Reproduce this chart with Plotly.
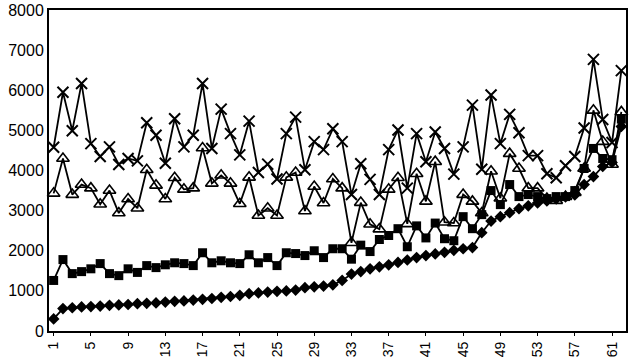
import plotly.graph_objects as go

categories = list(range(1, 63))

series_x = [4580, 5950, 4990, 6170, 4670, 4350, 4590, 4150, 4300, 4240,
            5190, 4880, 4180, 5290, 4590, 4880, 6170, 4550, 5530, 4920,
            4390, 5230, 3950, 4160, 3790, 4920, 5330, 4020, 4720, 4520,
            5040, 4720, 3400, 4170, 3780, 3400, 4520, 5010, 3560, 4920,
            4220, 4960, 4550, 3910, 4590, 5630, 4030, 5880, 4670, 5400,
            4940, 4370, 4370, 3920, 3820, 4120, 4350, 5060, 6770, 5270,
            4700, 6490]

series_tri = [3430, 4300, 3400, 3650, 3560, 3160, 3500, 2940, 3290, 3060,
              4020, 3630, 3290, 3820, 3530, 3560, 4560, 3680, 3880, 3680,
              3170, 3830, 2880, 3060, 2880, 3830, 3950, 2990, 3600, 3190,
              3790, 3560, 2200, 3200, 2660, 2540, 3530, 3820, 2670, 3920,
              3230, 4220, 2710, 2690, 3400, 3230, 2940, 3980, 3310, 4420,
              4050, 3560, 3560, 3300, 3250, 3350, 3450, 4050, 5500, 4720,
              4150, 5460]

series_sq = [1260, 1780, 1430, 1480, 1550, 1680, 1430, 1380, 1550, 1460,
             1630, 1580, 1650, 1700, 1680, 1630, 1950, 1700, 1750, 1700,
             1680, 1900, 1700, 1830, 1630, 1950, 1930, 1880, 2000, 1830,
             2050, 2050, 1790, 2140, 1980, 2280, 2380, 2550, 2100, 2620,
             2320, 2690, 2300, 2250, 2850, 2550, 2900, 3500, 3150, 3650,
             3350, 3400, 3350, 3300, 3350, 3350, 3500, 4050, 4550, 4300,
             4270, 5280]

series_dia = [300, 560, 580, 600, 610, 620, 640, 650, 660, 680,
              690, 700, 720, 740, 750, 770, 790, 810, 840, 860,
              890, 930, 950, 970, 990, 1000, 1020, 1080, 1100, 1120,
              1150, 1260, 1420, 1480, 1550, 1600, 1650, 1710, 1770, 1830,
              1880, 1920, 1960, 2010, 2050, 2080, 2450, 2740, 2850, 2950,
              3050, 3120, 3190, 3240, 3290, 3340, 3390, 3650, 3850, 4100,
              4200, 5100]

x_tick_vals = list(range(1, 63, 4))
x_tick_text = [str(v) for v in x_tick_vals]
y_tick_vals = list(range(0, 8001, 1000))

fig = go.Figure()
line = dict(color="black", width=1.8)

fig.add_trace(go.Scatter(x=categories, y=series_dia, mode="lines+markers", line=line,
                         marker=dict(symbol="diamond", size=9, color="black"),
                         cliponaxis=False))
fig.add_trace(go.Scatter(x=categories, y=series_sq, mode="lines+markers", line=line,
                         marker=dict(symbol="square", size=9, color="black"),
                         cliponaxis=False))
fig.add_trace(go.Scatter(x=categories, y=series_tri, mode="lines+markers", line=line,
                         marker=dict(symbol="triangle-up-open", size=11, color="black",
                                     line=dict(width=1.6, color="black")),
                         cliponaxis=False))
fig.add_trace(go.Scatter(x=categories, y=series_x, mode="lines+markers", line=line,
                         marker=dict(symbol="x-thin-open", size=11, color="black",
                                     line=dict(width=2, color="black")),
                         cliponaxis=False))

fig.update_layout(
    width=631, height=362,
    margin=dict(l=49, r=5, t=10, b=31, autoexpand=False),
    paper_bgcolor="white", plot_bgcolor="white",
    showlegend=False,
    font=dict(family="Liberation Sans, Arial, sans-serif", color="black"),
)
fig.update_xaxes(range=[0.5, 62.5], tickvals=x_tick_vals, ticktext=x_tick_text,
                 tickangle=-90, tickfont=dict(size=14), showgrid=False,
                 showline=True, linecolor="black", linewidth=2, mirror=True,
                 ticks="outside", ticklen=3, tickcolor="black", zeroline=False,
                 automargin=False)
fig.update_yaxes(range=[0, 8000.5], tickvals=y_tick_vals, tickfont=dict(size=16),
                 showgrid=False, showline=True, linecolor="black", linewidth=2,
                 mirror=True, ticks="", zeroline=False, automargin=False,
                 ticklabeloverflow="allow")

fig.write_html("out.html")
